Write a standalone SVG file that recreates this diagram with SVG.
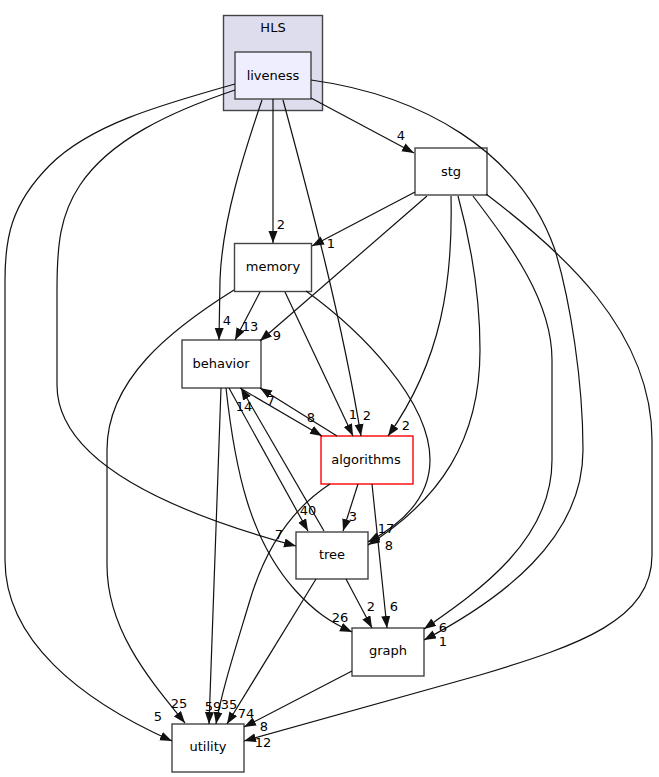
<svg xmlns="http://www.w3.org/2000/svg" width="659" height="777" viewBox="0 0 659 777">
<style>
text{font-family:"DejaVu Sans","Liberation Sans",sans-serif;font-size:13px;fill:#000}
.n{fill:#fff;stroke:#444;stroke-width:1.4}
.lbl{text-anchor:middle}
.e path{fill:none;stroke:#111;stroke-width:1.2;marker-end:url(#a)}
</style>
<defs>
<marker id="a" markerUnits="userSpaceOnUse" markerWidth="13" markerHeight="10" refX="12" refY="4.5" orient="auto">
<path d="M0,0 L12,4.5 L0,9 z" fill="#111"/>
</marker>
</defs>
<rect width="659" height="777" fill="#fff"/>
<g id="cluster_HLS">
<rect x="223.5" y="15.5" width="99" height="95" fill="#ddddee" stroke="#444" stroke-width="1.4"/>
<text x="273" y="32" class="lbl">HLS</text>
</g>
<g id="liveness">
<rect x="235" y="52" width="76" height="47" fill="#eeeeff" stroke="#444" stroke-width="1.4"/>
<text x="273" y="80" class="lbl">liveness</text>
</g>
<g id="stg">
<rect class="n" x="415" y="148" width="72" height="47"/>
<text x="451" y="176" class="lbl">stg</text>
</g>
<g id="memory">
<rect class="n" x="234.5" y="243.5" width="77" height="48"/>
<text x="273" y="271" class="lbl">memory</text>
</g>
<g id="behavior">
<rect class="n" x="182" y="340" width="79" height="48"/>
<text x="221" y="368" class="lbl">behavior</text>
</g>
<g id="algorithms">
<rect x="321" y="436" width="92" height="48" fill="#fff" stroke="#ff0000" stroke-width="1.4"/>
<text x="366" y="464" class="lbl">algorithms</text>
</g>
<g id="tree">
<rect class="n" x="296" y="532" width="72" height="47"/>
<text x="332" y="559" class="lbl">tree</text>
</g>
<g id="graph">
<rect class="n" x="352" y="628" width="72" height="48"/>
<text x="388" y="655" class="lbl">graph</text>
</g>
<g id="utility">
<rect class="n" x="172" y="724" width="72" height="48"/>
<text x="208" y="751" class="lbl">utility</text>
</g>
<g id="connectors" class="e">
<path d="M311,98 L414,153"/>
<path d="M273,99 L273,243"/>
<path d="M262,100 C245,150 222,220 220,280 L219,340"/>
<path d="M283,100 C310,200 342,320 361,436"/>
<path d="M235,90 C170,112 110,140 80,185 C60,215 57,245 57,290 L57,385 C57,470 200,520 296,546"/>
<path d="M311,80 C420,95 520,150 555,250 C570,300 583,380 583,450 C583,540 500,600 424,640"/>
<path d="M235,84 C160,105 90,125 50,165 C10,205 5,240 5,280 L5,560 C5,640 80,700 172,741"/>
<path d="M415,192 L312,246"/>
<path d="M427,196 L260,341"/>
<path d="M451,196 C453,280 442,360 388,436"/>
<path d="M458,196 C470,240 480,290 480,350 C480,440 440,500 368,545"/>
<path d="M473,196 C510,245 552,300 552,360 L552,460 C552,540 480,590 424,629"/>
<path d="M486,194 C560,250 652,330 652,440 L652,555 C652,620 580,645 480,675 L244,741"/>
<path d="M260,292 L235,340"/>
<path d="M285,292 L353,436"/>
<path d="M306,291 C360,330 430,400 430,460 C430,500 400,525 368,542"/>
<path d="M234,290 C170,330 107,380 107,450 L107,565 C107,630 150,680 185,723"/>
<path d="M240,388 L322,436"/>
<path d="M337,436 L260,388"/>
<path d="M229,388 L308,531"/>
<path d="M324,531 L241,388"/>
<path d="M221,388 L209,724"/>
<path d="M226,388 C235,470 250,540 295,590 C315,612 330,622 352,632"/>
<path d="M330,484 C290,510 265,550 250,600 C235,650 222,690 216,724"/>
<path d="M358,484 L343,531"/>
<path d="M372,484 L387,628"/>
<path d="M346,579 L372,628"/>
<path d="M316,579 L227,724"/>
<path d="M352,671 L244,727"/>
</g>
<g id="edge-labels" class="lbl">
<text x="401" y="140">4</text>
<text x="281" y="229">2</text>
<text x="227" y="325">4</text>
<text x="367" y="420">2</text>
<text x="279" y="539">7</text>
<text x="443" y="646">1</text>
<text x="158" y="721">5</text>
<text x="331" y="248">1</text>
<text x="277" y="340">9</text>
<text x="406" y="430">2</text>
<text x="389" y="550">8</text>
<text x="386" y="533">17</text>
<text x="443" y="632">6</text>
<text x="263" y="747">12</text>
<text x="250" y="331">13</text>
<text x="353" y="419">1</text>
<text x="179" y="708">25</text>
<text x="311" y="422">8</text>
<text x="271" y="405">7</text>
<text x="308" y="515">40</text>
<text x="244" y="411">14</text>
<text x="213" y="711">59</text>
<text x="229" y="709">35</text>
<text x="246" y="718">74</text>
<text x="340" y="622">26</text>
<text x="353" y="521">3</text>
<text x="394" y="611">6</text>
<text x="371" y="611">2</text>
<text x="264" y="731">8</text>
</g>
</svg>
